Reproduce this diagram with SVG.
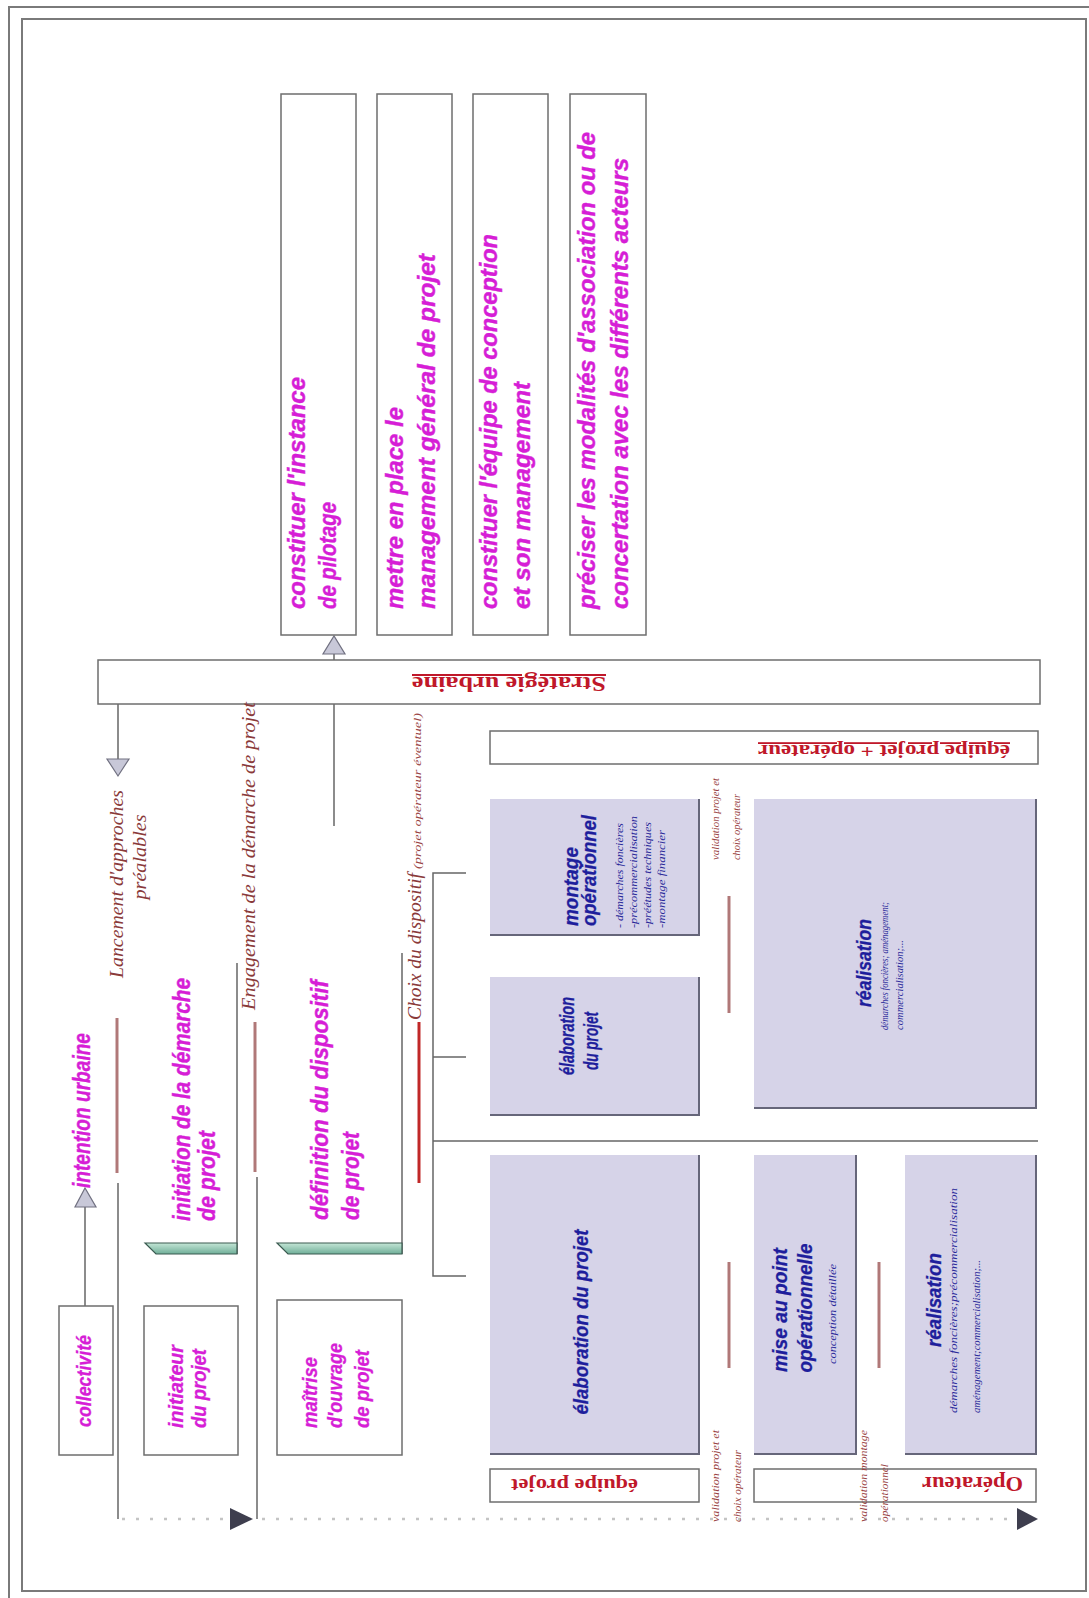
<svg xmlns="http://www.w3.org/2000/svg" width="1089" height="1598" viewBox="0 0 1089 1598">
<style>
.frame{fill:none;stroke:#7a7a7a;stroke-width:2}
.box{fill:#fff;stroke:#6e6e6e;stroke-width:1.5}
.lav{fill:#d6d3e8}
.sh{fill:none;stroke:#66667a;stroke-width:2}
.mg{font-family:"Liberation Sans",Arial,sans-serif;font-weight:bold;font-style:italic;fill:#d61ed6;stroke:#d61ed6;stroke-width:0.4px;font-size:24px}
.mgs{font-family:"Liberation Sans",Arial,sans-serif;font-weight:bold;font-style:italic;fill:#d61ed6;stroke:#d61ed6;stroke-width:0.3px;font-size:20px}
.bl{font-family:"Liberation Sans",Arial,sans-serif;font-weight:bold;font-style:italic;fill:#1e1e9c;stroke:#1e1e9c;stroke-width:0.3px;font-size:21px}
.bls{font-family:"Liberation Serif",serif;font-style:italic;fill:#2a2a9a;font-size:10px}
.ms{font-family:"Liberation Serif",serif;font-style:italic;fill:#8a3a3a;font-size:19px}
.mss{font-family:"Liberation Serif",serif;font-style:italic;fill:#9a4444;font-size:11px}
.rd{font-family:"Liberation Serif",serif;font-weight:bold;fill:#c0182a}
.cn{fill:none;stroke:#666;stroke-width:1.5}
.mk{stroke:#b07878;stroke-width:3}
.mkr{stroke:#c02828;stroke-width:3}
.hollow{fill:#c8c8d8;stroke:#707080;stroke-width:1.2}
.dark{fill:#3e3e4e}
.bar{fill:url(#barg);stroke:#3a5a50;stroke-width:1.2}
</style>
<defs>
<linearGradient id="barg" x1="0" y1="0" x2="0" y2="1">
<stop offset="0" stop-color="#c4e6d6"/>
<stop offset="1" stop-color="#6fae98"/>
</linearGradient>
</defs>
<rect width="1089" height="1598" fill="#fff"/>
<g id="frames">
<rect class="frame" x="9" y="7" width="1092" height="1600"/>
<rect class="frame" x="22" y="19" width="1064" height="1572"/>
</g>

<g id="connectors">
<line class="cn" x1="118" y1="704" x2="118" y2="759"/>
<polygon class="hollow" points="107,759 129,759 118,776"/>
<line class="cn" x1="118" y1="1183" x2="118" y2="1519"/>
<line class="cn" x1="257" y1="1177" x2="257" y2="1519"/>
<line class="cn" x1="334" y1="826" x2="334" y2="654"/>
<polygon class="hollow" points="323,654 345,654 334,636"/>
<line class="cn" x1="85" y1="1306" x2="85" y2="1207"/>
<polygon class="hollow" points="75,1207 96,1207 85,1188"/>
<polyline class="cn" points="237,963 237,1254"/>
<polyline class="cn" points="402,953 402,1254"/>
<polyline class="cn" points="466,873 433,873 433,1276 466,1276"/>
<line class="cn" x1="433" y1="1057" x2="466" y2="1057"/>
<line class="cn" x1="433" y1="1141" x2="1038" y2="1141"/>
<line x1="122" y1="1519" x2="1017" y2="1519" stroke="#c4c4c4" stroke-width="2.5" stroke-dasharray="3 11"/>
<polygon class="dark" points="230,1508 253,1519 230,1530"/>
<polygon class="dark" points="1017,1508 1038,1519 1017,1530"/>
<line class="mk" x1="117" y1="1018" x2="117" y2="1173"/>
<line class="mk" x1="255" y1="1022" x2="255" y2="1172"/>
<line class="mkr" x1="419" y1="1022" x2="419" y2="1183"/>
<line class="mk" x1="729" y1="896" x2="729" y2="1013"/>
<line class="mk" x1="729" y1="1262" x2="729" y2="1368"/>
<line class="mk" x1="879" y1="1262" x2="879" y2="1368"/>
</g>

<g id="top-boxes">
<g id="n-pilotage">
<rect class="box" x="281" y="94" width="75" height="541"/>
<text class="mg" transform="translate(305 609) rotate(-90)" textLength="232" lengthAdjust="spacingAndGlyphs">constituer l'instance</text>
<text class="mg" transform="translate(336 609) rotate(-90)" textLength="107" lengthAdjust="spacingAndGlyphs">de pilotage</text>
</g>
<g id="n-management">
<rect class="box" x="377" y="94" width="75" height="541"/>
<text class="mg" transform="translate(403 609) rotate(-90)" textLength="202" lengthAdjust="spacingAndGlyphs">mettre en place le</text>
<text class="mg" transform="translate(435 609) rotate(-90)" textLength="355" lengthAdjust="spacingAndGlyphs">management général de projet</text>
</g>
<g id="n-equipe-conception">
<rect class="box" x="473" y="94" width="75" height="541"/>
<text class="mg" transform="translate(497 609) rotate(-90)" textLength="375" lengthAdjust="spacingAndGlyphs">constituer l'équipe de conception</text>
<text class="mg" transform="translate(530 609) rotate(-90)" textLength="227" lengthAdjust="spacingAndGlyphs">et son management</text>
</g>
<g id="n-modalites">
<rect class="box" x="570" y="94" width="76" height="541"/>
<text class="mg" transform="translate(595 609) rotate(-90)" textLength="477" lengthAdjust="spacingAndGlyphs">préciser les modalités d'association ou de</text>
<text class="mg" transform="translate(628 609) rotate(-90)" textLength="451" lengthAdjust="spacingAndGlyphs">concertation avec les différents acteurs</text>
</g>
</g>

<g id="n-strategie">
<rect class="box" x="98" y="660" width="942" height="44"/>
<text class="rd" font-size="20" text-decoration="underline" transform="translate(606 677) rotate(180)" textLength="194" lengthAdjust="spacingAndGlyphs">Stratégie urbaine</text>
</g>
<g id="n-equipe-operateur">
<rect class="box" x="490" y="731" width="548" height="33"/>
<text class="rd" font-size="18" text-decoration="underline" transform="translate(1010 745) rotate(180)" textLength="252" lengthAdjust="spacingAndGlyphs">équipe projet + opérateur</text>
</g>

<g id="n-intention">
<text class="mg" transform="translate(90 1188) rotate(-90)" textLength="155" lengthAdjust="spacingAndGlyphs">intention urbaine</text>
</g>
<g id="n-initiation">
<polygon class="bar" points="145,1243 237,1243 237,1254 156,1254"/>
<text class="mg" transform="translate(190 1221) rotate(-90)" textLength="243" lengthAdjust="spacingAndGlyphs">initiation de la démarche</text>
<text class="mg" transform="translate(215 1221) rotate(-90)" textLength="90" lengthAdjust="spacingAndGlyphs">de projet</text>
</g>
<g id="n-definition">
<polygon class="bar" points="277,1243 402,1243 402,1254 288,1254"/>
<text class="mg" transform="translate(328 1220) rotate(-90)" textLength="240" lengthAdjust="spacingAndGlyphs">définition du dispositif</text>
<text class="mg" transform="translate(359 1220) rotate(-90)" textLength="88" lengthAdjust="spacingAndGlyphs">de projet</text>
</g>
<g id="n-collectivite">
<rect class="box" x="59" y="1306" width="54" height="149"/>
<text class="mgs" text-anchor="middle" transform="translate(91 1381) rotate(-90)" textLength="92" lengthAdjust="spacingAndGlyphs">collectivité</text>
</g>
<g id="n-initiateur">
<rect class="box" x="144" y="1306" width="94" height="149"/>
<text class="mgs" transform="translate(183 1428) rotate(-90)" textLength="83" lengthAdjust="spacingAndGlyphs">initiateur</text>
<text class="mgs" transform="translate(206 1428) rotate(-90)" textLength="79" lengthAdjust="spacingAndGlyphs">du projet</text>
</g>
<g id="n-maitrise">
<rect class="box" x="277" y="1300" width="125" height="155"/>
<text class="mgs" transform="translate(317 1428) rotate(-90)" textLength="71" lengthAdjust="spacingAndGlyphs">maîtrise</text>
<text class="mgs" transform="translate(342 1428) rotate(-90)" textLength="85" lengthAdjust="spacingAndGlyphs">d'ouvrage</text>
<text class="mgs" transform="translate(369 1428) rotate(-90)" textLength="78" lengthAdjust="spacingAndGlyphs">de projet</text>
</g>

<g id="n-montage">
<rect class="lav" x="490" y="799" width="209" height="136"/>
<polyline class="sh" points="490,935 699,935 699,799"/>
<text class="bl" transform="translate(578 926) rotate(-90)" textLength="79" lengthAdjust="spacingAndGlyphs">montage</text>
<text class="bl" transform="translate(596 926) rotate(-90)" textLength="111" lengthAdjust="spacingAndGlyphs">opérationnel</text>
<text class="bls" transform="translate(623 928) rotate(-90)" textLength="105" lengthAdjust="spacingAndGlyphs">- démarches foncières</text>
<text class="bls" transform="translate(637 928) rotate(-90)" textLength="112" lengthAdjust="spacingAndGlyphs">-précommercialisation</text>
<text class="bls" transform="translate(651 928) rotate(-90)" textLength="106" lengthAdjust="spacingAndGlyphs">-préétudes techniques</text>
<text class="bls" transform="translate(665 928) rotate(-90)" textLength="98" lengthAdjust="spacingAndGlyphs">-montage financier</text>
</g>
<g id="n-elaboration-1">
<rect class="lav" x="490" y="977" width="209" height="138"/>
<polyline class="sh" points="490,1115 699,1115 699,977"/>
<text class="bl" text-anchor="middle" transform="translate(574 1036) rotate(-90)" textLength="78" lengthAdjust="spacingAndGlyphs">élaboration</text>
<text class="bl" text-anchor="middle" transform="translate(598 1041) rotate(-90)" textLength="58" lengthAdjust="spacingAndGlyphs">du projet</text>
</g>
<g id="n-realisation-1">
<rect class="lav" x="754" y="799" width="282" height="309"/>
<polyline class="sh" points="754,1108 1036,1108 1036,799"/>
<text class="bl" text-anchor="middle" transform="translate(871 963) rotate(-90)" textLength="88" lengthAdjust="spacingAndGlyphs">réalisation</text>
<text class="bls" transform="translate(888 1030) rotate(-90)" textLength="128" lengthAdjust="spacingAndGlyphs">démarches foncières; aménagement;</text>
<text class="bls" transform="translate(903 1030) rotate(-90)" textLength="90" lengthAdjust="spacingAndGlyphs">commercialisation;...</text>
</g>
<g id="n-elaboration-2">
<rect class="lav" x="490" y="1155" width="209" height="299"/>
<polyline class="sh" points="490,1454 699,1454 699,1155"/>
<text class="bl" text-anchor="middle" transform="translate(588 1322) rotate(-90)" textLength="185" lengthAdjust="spacingAndGlyphs">élaboration du projet</text>
</g>
<g id="n-mise-au-point">
<rect class="lav" x="754" y="1155" width="102" height="299"/>
<polyline class="sh" points="754,1454 856,1454 856,1155"/>
<text class="bl" text-anchor="middle" transform="translate(787 1310) rotate(-90)" textLength="124" lengthAdjust="spacingAndGlyphs">mise au point</text>
<text class="bl" text-anchor="middle" transform="translate(812 1308) rotate(-90)" textLength="129" lengthAdjust="spacingAndGlyphs">opérationnelle</text>
<text class="bls" text-anchor="middle" transform="translate(836 1314) rotate(-90)" textLength="100" lengthAdjust="spacingAndGlyphs">conception détaillée</text>
</g>
<g id="n-realisation-2">
<rect class="lav" x="905" y="1155" width="131" height="299"/>
<polyline class="sh" points="905,1454 1036,1454 1036,1155"/>
<text class="bl" text-anchor="middle" transform="translate(941 1300) rotate(-90)" textLength="94" lengthAdjust="spacingAndGlyphs">réalisation</text>
<text class="bls" transform="translate(957 1413) rotate(-90)" textLength="225" lengthAdjust="spacingAndGlyphs">démarches foncières;précommercialisation</text>
<text class="bls" transform="translate(980 1413) rotate(-90)" textLength="153" lengthAdjust="spacingAndGlyphs">aménagement;commercialisation;...</text>
</g>
<g id="n-equipe-projet">
<rect class="box" x="490" y="1469" width="209" height="33"/>
<text class="rd" font-size="19" transform="translate(638 1479) rotate(180)" textLength="127" lengthAdjust="spacingAndGlyphs">équipe projet</text>
</g>
<g id="n-operateur">
<rect class="box" x="754" y="1469" width="282" height="33"/>
<text class="rd" font-size="21" transform="translate(1023 1477) rotate(180)" textLength="101" lengthAdjust="spacingAndGlyphs">Opérateur</text>
</g>

<g id="milestones">
<text class="ms" text-anchor="middle" transform="translate(123 884) rotate(-90)" textLength="188" lengthAdjust="spacingAndGlyphs">Lancement d'approches</text>
<text class="ms" text-anchor="middle" transform="translate(146 857) rotate(-90)" textLength="85" lengthAdjust="spacingAndGlyphs">préalables</text>
<text class="ms" transform="translate(255 1010) rotate(-90)" textLength="308" lengthAdjust="spacingAndGlyphs">Engagement de la démarche de projet</text>
<text class="ms" transform="translate(421 1020) rotate(-90)" textLength="147" lengthAdjust="spacingAndGlyphs">Choix du dispositif</text>
<text class="mss" transform="translate(421 869) rotate(-90)" textLength="156" lengthAdjust="spacingAndGlyphs">(projet opérateur éventuel)</text>
<text class="mss" transform="translate(719 860) rotate(-90)" textLength="82" lengthAdjust="spacingAndGlyphs">validation projet et</text>
<text class="mss" transform="translate(740 860) rotate(-90)" textLength="66" lengthAdjust="spacingAndGlyphs">choix opérateur</text>
<text class="mss" transform="translate(719 1522) rotate(-90)" textLength="92" lengthAdjust="spacingAndGlyphs">validation projet et</text>
<text class="mss" transform="translate(741 1522) rotate(-90)" textLength="72" lengthAdjust="spacingAndGlyphs">choix opérateur</text>
<text class="mss" transform="translate(867 1522) rotate(-90)" textLength="92" lengthAdjust="spacingAndGlyphs">validation montage</text>
<text class="mss" transform="translate(888 1522) rotate(-90)" textLength="58" lengthAdjust="spacingAndGlyphs">opérationnel</text>
</g>
</svg>
